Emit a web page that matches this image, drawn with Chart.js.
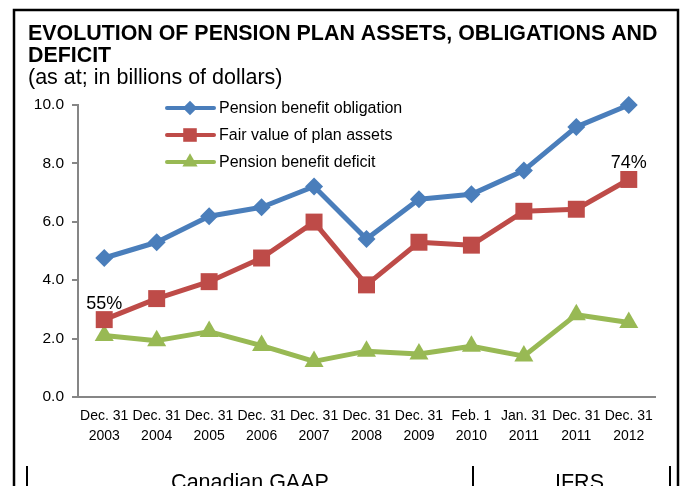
<!DOCTYPE html>
<html>
<head>
<meta charset="utf-8">
<script src="https://cdn.jsdelivr.net/npm/chart.js@4/dist/chart.umd.min.js"></script>
<style>
  html, body { margin: 0; padding: 0; background: #fff; }
  #wrap { width: 686px; height: 486px; }
</style>
</head>
<body>
<div id="wrap"><canvas id="pensionChart" width="686" height="486"></canvas></div>
<script>
const FONT = "'Liberation Sans', Arial, sans-serif";

// as at; billions of dollars
const categories = [
    ["Dec. 31", "2003"], ["Dec. 31", "2004"], ["Dec. 31", "2005"], ["Dec. 31", "2006"],
    ["Dec. 31", "2007"], ["Dec. 31", "2008"], ["Dec. 31", "2009"], ["Feb. 1", "2010"],
    ["Jan. 31", "2011"], ["Dec. 31", "2011"], ["Dec. 31", "2012"]
];
const obligation = [4.76, 5.30, 6.19, 6.50, 7.21, 5.41, 6.77, 6.94, 7.76, 9.25, 10.00];
const planAssets = [2.65, 3.37, 3.95, 4.76, 5.99, 3.84, 5.30, 5.20, 6.36, 6.43, 7.45];
const deficit = [2.11, 1.93, 2.24, 1.76, 1.22, 1.57, 1.47, 1.74, 1.40, 2.82, 2.55];
const fundedLabels = [{ index: 0, text: "55%" }, { index: 10, text: "74%" }];
const periods = [
    { text: "Canadian GAAP", from: 27, to: 473 },
    { text: "IFRS", from: 473, to: 670 }
];

const BLUE = "#4A7EBB";
const RED = "#BE4B48";
const GREEN = "#98B954";

const frame = {
    id: "frame",
    afterDraw(chart) {
        const ctx = chart.ctx;
        ctx.save();

        // outer box (open at the bottom)
        ctx.strokeStyle = "#000";
        ctx.lineWidth = 2.5;
        ctx.beginPath();
        ctx.moveTo(14, 490);
        ctx.lineTo(14, 10);
        ctx.lineTo(678, 10);
        ctx.lineTo(678, 490);
        ctx.stroke();

        // titles
        ctx.fillStyle = "#000";
        ctx.textAlign = "left";
        ctx.textBaseline = "alphabetic";
        ctx.font = "bold 21.4px " + FONT;
        ctx.fillText("EVOLUTION OF PENSION PLAN ASSETS, OBLIGATIONS AND", 28, 40);
        ctx.fillText("DEFICIT", 28, 62);
        ctx.font = "21.5px " + FONT;
        ctx.fillText("(as at; in billions of dollars)", 28, 84);

        // legend
        ctx.font = "16px " + FONT;
        ctx.textBaseline = "middle";
        chart.data.datasets.forEach((ds, i) => {
            const y = 108 + i * 27;
            ctx.strokeStyle = ds.borderColor;
            ctx.lineWidth = 4;
            ctx.lineCap = "round";
            ctx.beginPath();
            ctx.moveTo(167, y);
            ctx.lineTo(214, y);
            ctx.stroke();
            ctx.fillStyle = ds.pointBackgroundColor;
            Chart.helpers.drawPoint(ctx, {
                pointStyle: ds.pointStyle,
                radius: ds.pointRadius * 0.8,
                rotation: 0,
                borderWidth: 0
            }, 190, y);
            ctx.fillStyle = "#000";
            ctx.fillText(ds.label, 219, y + 1);
        });

        // funded ratio labels above the plan assets line
        const meta = chart.getDatasetMeta(1);
        ctx.font = "18px " + FONT;
        ctx.textAlign = "center";
        ctx.textBaseline = "alphabetic";
        fundedLabels.forEach(l => {
            const pt = meta.data[l.index];
            ctx.fillText(l.text, pt.x, pt.y - 11);
        });

        // accounting framework brackets
        ctx.lineWidth = 2;
        ctx.lineCap = "butt";
        ctx.strokeStyle = "#000";
        const dividers = [periods[0].from, periods[0].to, periods[1].to];
        dividers.forEach(x => {
            ctx.beginPath();
            ctx.moveTo(x, 466);
            ctx.lineTo(x, 490);
            ctx.stroke();
        });
        ctx.font = "21.5px " + FONT;
        ctx.textBaseline = "alphabetic";
        periods.forEach(p => {
            ctx.fillText(p.text, (p.from + p.to) / 2 + (p.text === "IFRS" ? 8 : 0), 489);
        });

        ctx.restore();
    }
};

new Chart(document.getElementById("pensionChart").getContext("2d"), {
    type: "line",
    data: {
        labels: categories,
        datasets: [
            { label: "Pension benefit obligation", data: obligation, borderColor: BLUE, backgroundColor: BLUE,
              pointBackgroundColor: BLUE, pointBorderWidth: 0, pointStyle: "rectRot", pointRadius: 9, borderWidth: 5 },
            { label: "Fair value of plan assets", data: planAssets, borderColor: RED, backgroundColor: RED,
              pointBackgroundColor: RED, pointBorderWidth: 0, pointStyle: "rect", pointRadius: 12, borderWidth: 5 },
            { label: "Pension benefit deficit", data: deficit, borderColor: GREEN, backgroundColor: GREEN,
              pointBackgroundColor: GREEN, pointBorderWidth: 0, pointStyle: "triangle", pointRadius: 11, borderWidth: 5 }
        ]
    },
    options: {
        responsive: false,
        animation: false,
        clip: false,
        layout: { padding: { top: 105, right: 31, left: 0, bottom: 0 } },
        plugins: { legend: { display: false }, tooltip: { enabled: false } },
        elements: { line: { tension: 0, borderJoinStyle: "round" } },
        scales: {
            x: {
                offset: true,
                grid: { display: false, drawTicks: false },
                border: { color: "#868686", width: 2 },
                ticks: { color: "#000", font: { family: FONT, size: 14, lineHeight: 1.45 }, padding: 9,
                         maxRotation: 0, autoSkip: false },
                afterFit: s => { s.height = 89; }
            },
            y: {
                min: 0,
                max: 10,
                ticks: { stepSize: 2, color: "#000", font: { family: FONT, size: 15.5 }, padding: 8,
                         callback: v => v.toFixed(1) },
                grid: { drawOnChartArea: false, tickLength: 6, color: "#868686", lineWidth: 2 },
                border: { color: "#868686", width: 2 },
                afterFit: s => { s.width = 78; }
            }
        }
    },
    plugins: [frame]
});
</script>
</body>
</html>
